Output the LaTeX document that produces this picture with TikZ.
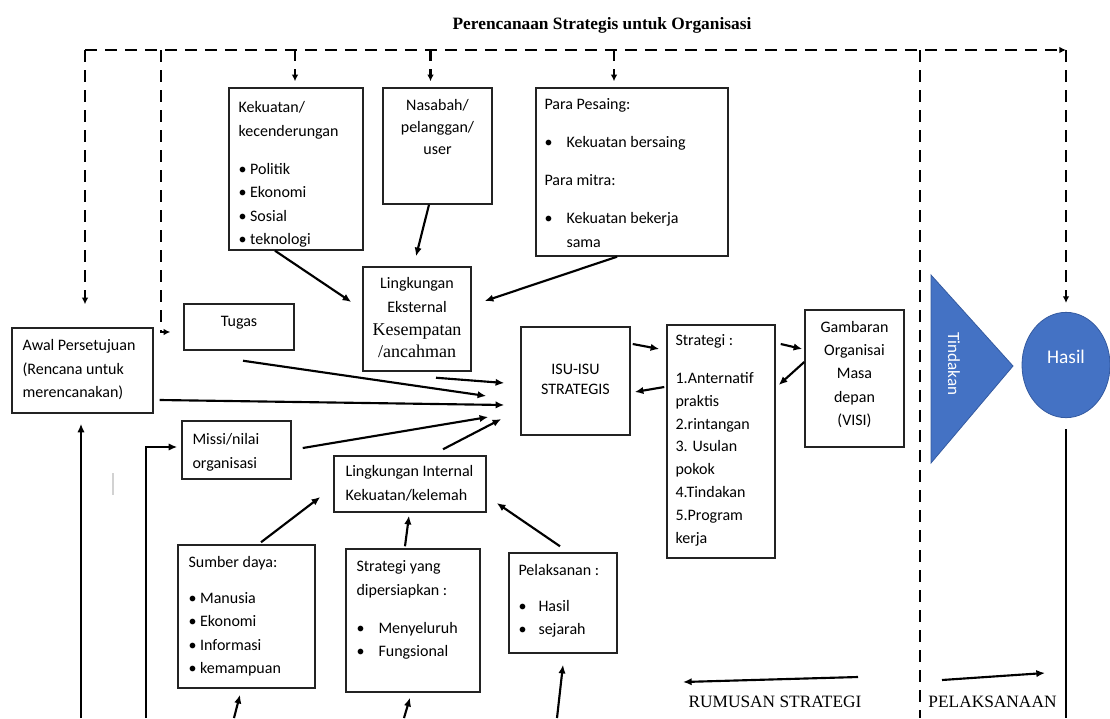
\documentclass[tikz,border=0pt]{standalone}
\usepackage{fontspec}
\setmainfont{Carlito}
\newfontfamily\hurufserif{Liberation Serif}
\usepackage{tikz}
\usetikzlibrary{arrows.meta, positioning, fit, calc, shapes.geometric}
\usepackage{xcolor}
\definecolor{birubentuk}{RGB}{68, 114, 196}
\definecolor{birutepi}{RGB}{52, 90, 160}
\definecolor{garisbox}{RGB}{35, 35, 35}

\begin{document}
\begin{tikzpicture}[x=0.75pt, y=-0.75pt,
    kotak/.style={rectangle, draw=garisbox, line width=1.1pt, inner sep=0pt},
    isi/.style={inner sep=0pt, anchor=north west, align=left, font=\fontsize{12}{17.6}\selectfont},
    tengah/.style={inner sep=0pt, align=center, font=\fontsize{12}{17.6}\selectfont},
    panah/.style={-{Latex[length=6.5pt, width=5.5pt]}, line width=1.6pt},
    putus/.style={line width=1.9pt, dash pattern=on 9pt off 6pt},
    putuspanah/.style={putus, -{Latex[length=5pt, width=5pt]}},
    serifteks/.style={inner sep=0pt, font=\hurufserif\fontsize{13}{15}\selectfont},
    biru/.style={fill=birubentuk, draw=birutepi, line width=0.6pt},
]
\useasboundingbox (0,0) rectangle (1110,718);

\node[serifteks, font=\hurufserif\bfseries\fontsize{13}{15}\selectfont] (judul) at (602,25) {Perencanaan Strategis untuk Organisasi};

\node[kotak, fit={(229,88) (363,250)}]  (kekuatan)   {};
\node[kotak, fit={(383,88) (492,204)}]  (nasabah)    {};
\node[kotak, fit={(536,88) (728,256)}]  (pesaing)    {};
\node[kotak, fit={(12,328) (153,413)}]  (awal)       {};
\node[kotak, fit={(184,304) (294,350)}] (tugas)      {};
\node[kotak, fit={(363,267) (471,371)}] (eksternal)  {};
\node[kotak, fit={(521,327) (630,435)}] (isu)        {};
\node[kotak, fit={(667,325) (775,558)}] (strategi)   {};
\node[kotak, fit={(805,310) (904,447)}] (gambaran)   {};
\node[kotak, fit={(182,421) (291,479)}] (missi)      {};
\node[kotak, fit={(334,456) (486,512)}] (internal)   {};
\node[kotak, fit={(178,545) (315,688)}] (sumber)     {};
\node[kotak, fit={(346,549) (480,692)}] (disiapkan)  {};
\node[kotak, fit={(509,553) (617,653)}] (pelaksanan) {};

\node[isi] (kekuatanT) at ($(kekuatan.north west)+(10,14)$) {Kekuatan/\\kecenderungan\\[11pt]\textbullet\ Politik\\\textbullet\ Ekonomi\\\textbullet\ Sosial\\\textbullet\ teknologi};
\node[tengah, anchor=north, font=\fontsize{12}{16.5}\selectfont] (nasabahT) at ($(nasabah.north)+(0,12)$) {Nasabah/\\pelanggan/\\user};
\node[isi] (pesaingT) at ($(pesaing.north west)+(9,11)$) {Para Pesaing:\\[11pt]\makebox[16.5pt][l]{\textbullet}Kekuatan bersaing\\[11pt]Para mitra:\\[11pt]\makebox[16.5pt][l]{\textbullet}Kekuatan bekerja\\\hspace*{16.5pt}sama};
\node[isi] (awalT) at ($(awal.north west)+(11,12)$) {Awal Persetujuan\\(Rencana untuk\\merencanakan)};
\node[tengah, anchor=north] (tugasT) at ($(tugas.north)+(0,13)$) {Tugas};
\node[tengah, anchor=north] (eksternalT) at ($(eksternal.north)+(0,11)$) {Lingkungan\\Eksternal\\{\hurufserif\fontsize{13.5}{17.6}\selectfont Kesempatan}\\[-1.5pt]{\hurufserif\fontsize{13.5}{17.6}\selectfont /ancahman}};
\node[tengah, font=\fontsize{12}{15}\selectfont] (isuT) at ($(isu.center)+(0,-2)$) {ISU-ISU\\STRATEGIS};
\node[isi, font=\fontsize{12}{17.2}\selectfont] (strategiT) at ($(strategi.north west)+(9,10)$) {Strategi :\\[11pt]1.Anternatif\\praktis\\2.rintangan\\3. Usulan\\pokok\\4.Tindakan\\5.Program\\kerja};
\node[tengah] (gambaranT) at ($(gambaran.center)+(0,-4)$) {Gambaran\\Organisai\\Masa\\depan\\(VISI)};
\node[isi] (missiT) at ($(missi.north west)+(11,13)$) {Missi/nilai\\organisasi};
\node[isi] (internalT) at ($(internal.north west)+(12,10)$) {Lingkungan Internal\\Kekuatan/kelemah};
\node[isi] (sumberT) at ($(sumber.north west)+(11,12)$) {Sumber daya:\\[9pt]\textbullet\ Manusia\\\textbullet\ Ekonomi\\\textbullet\ Informasi\\\textbullet\ kemampuan};
\node[isi] (disiapkanT) at ($(disiapkan.north west)+(11,12)$) {Strategi yang\\dipersiapkan :\\[11pt]\makebox[16.5pt][l]{\textbullet}Menyeluruh\\\makebox[16.5pt][l]{\textbullet}Fungsional};
\node[isi] (pelaksananT) at ($(pelaksanan.north west)+(10,12)$) {Pelaksanan :\\[9pt]\makebox[15pt][l]{\textbullet}Hasil\\\makebox[15pt][l]{\textbullet}sejarah};

\fill[biru] (931,275) -- (1013,366) -- (931,463) -- cycle;
\node[rotate=-90, text=white, inner sep=0pt, font=\fontsize{12.8}{14}\selectfont] (tindakan) at (954,364) {Tindakan};
\node[ellipse, biru, minimum width=66pt, minimum height=79pt, inner sep=0pt, text=white, text height=10pt, text depth=12.6pt, font=\fontsize{14.5}{16}\selectfont] (hasil) at (1066,365) {Hasil};

\node[serifteks] (rumusan)     at (775,702)   {RUMUSAN STRATEGI};
\node[serifteks] (pelaksanaan) at (992.5,702) {PELAKSANAAN};

\coordinate (kiriAtas)  at (85,50);
\coordinate (kananAtas) at (1066,50);
\coordinate (tugasAtas) at (161,50);
\coordinate (batasAtas) at (920,50);
\coordinate (batasBawah) at (920,718);
\coordinate (hasilBawah) at (1066,718);

\draw[putuspanah] (kiriAtas) -- (kananAtas);
\draw[putuspanah] (kiriAtas) -- ($(awal.north)+(2.5,-23)$);
\draw[putuspanah] (tugasAtas) |- ($(tugas.west)+(-13,5)$);
\draw[putuspanah] ($(kekuatan.north)+(-1,-38)$) -- ($(kekuatan.north)+(-1,-6)$);
\draw[putuspanah] ($(nasabah.north)+(-7,-38)$) -- ($(nasabah.north)+(-7,-6)$);
\draw[putuspanah] ($(pesaing.north)+(-18,-38)$) -- ($(pesaing.north)+(-18,-6)$);
\draw[putuspanah] (kananAtas) -- ($(hasil.north)+(0,-9)$);
\draw[putus] (batasAtas) -- (batasBawah);

\draw[panah] ($(kekuatan.south)+(-21,0)$) -- ($(eksternal.west)+(-11,-17)$);
\draw[panah] ($(nasabah.south)+(-8.5,0)$) -- ($(eksternal.north)+(-1,-10)$);
\draw[panah] ($(pesaing.south)+(-15,0)$)  -- ($(eksternal.east)+(13,-18)$);

\draw[panah] ($(tugas.south)+(4,10)$)      -- ($(isu.west)+(-34,15)$);
\draw[panah] ($(eksternal.south)+(19,6)$)  -- ($(isu.west)+(-16,2)$);
\draw[panah] ($(awal.east)+(6,29.5)$)      -- ($(isu.west)+(-16,24)$);
\draw[panah] ($(missi.east)+(11,-2)$)      -- ($(isu.west)+(-32,36)$);
\draw[panah] ($(internal.north)+(33,-6)$)  -- ($(isu.west)+(-19,38)$);

\draw[panah] ($(isu.east)+(2,-37)$)           -- ($(strategi.west)+(-7,-92.5)$);
\draw[panah] ($(strategi.west)+(-2,-54.5)$)   -- ($(isu.east)+(4,11)$);
\draw[panah] ($(strategi.east)+(5,-97.5)$)    -- ($(gambaran.west)+(-2,-29.5)$);
\draw[panah] ($(gambaran.west)+(0,-16.5)$)    -- ($(strategi.east)+(3,-56.5)$);

\draw[panah] ($(sumber.north)+(14.5,-2)$)    -- ($(internal.west)+(-13,13)$);
\draw[panah] ($(disiapkan.north)+(-8,-2)$)   -- ($(internal.south)+(-1,3)$);
\draw[panah] ($(pelaksanan.north)+(-3,-6)$)  -- ($(internal.east)+(10,19)$);

\coordinate (bawahSumber)     at (234,718);
\coordinate (bawahDisiapkan)  at (404,718);
\coordinate (bawahPelaksanan) at (557,718);
\coordinate (bawahAwal)       at (81,718);
\coordinate (bawahMissi)      at (146,718);

\draw[panah] (bawahSumber)     -- ($(sumber.south)+(-6.5,6)$);
\draw[panah] (bawahDisiapkan)  -- ($(disiapkan.south)+(-3,5)$);
\draw[panah] (bawahPelaksanan) -- ($(pelaksanan.south)+(0,11)$);
\draw[panah] (bawahAwal)       -- ($(awal.south)+(-1.5,10)$);
\draw[panah] (bawahMissi)      |- ($(missi.west)+(-4,-3)$);
\draw[line width=1.6pt] ($(hasil.south)+(0,11)$) -- (hasilBawah);

\coordinate (rumusanKanan)  at (858,677);
\coordinate (rumusanKiri)   at (683,682);
\coordinate (laksanaKiri)   at (942,680);
\coordinate (laksanaKanan)  at (1045,673);
\draw[panah] (rumusanKanan) -- (rumusanKiri);
\draw[panah] (laksanaKiri)  -- (laksanaKanan);

\draw[gray!35, line width=0.8pt] (113,473) -- (113,495);

\end{tikzpicture}
\end{document}
